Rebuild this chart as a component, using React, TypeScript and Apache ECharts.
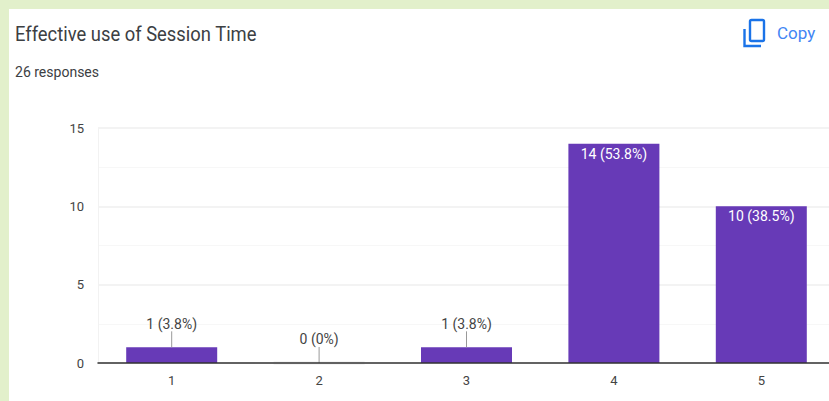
import React, { useEffect, useRef } from "react";
import * as echarts from "echarts";

const categories = ["1", "2", "3", "4", "5"];
const counts = [1, 0, 1, 14, 10];
const percents = ["3.8%", "0%", "3.8%", "53.8%", "38.5%"];
const titleText = "Effective use of Session Time";
const subtitleText = "26 responses";
const copyText = "Copy";

const FONT = "Roboto";
const INSIDE_FROM = 5; // bars at least this tall carry their label inside
const LEADER_LENGTH = 16;

export default function App() {
  const ref = useRef<HTMLDivElement>(null);

  useEffect(() => {
    const chart = echarts.init(ref.current!, undefined, { renderer: "svg" });
    chart.setOption({
      animation: false,
      backgroundColor: "#e2f0cb",
      graphic: [
        { type: "rect", z: -10, shape: { x: 9, y: 9, width: 840, height: 400 }, style: { fill: "#ffffff" } },
        { type: "text", x: 15, y: 24, scaleX: 0.92, style: { text: titleText, fill: "#3c4043", font: `20px ${FONT}` } },
        { type: "text", x: 15, y: 65, scaleX: 0.935, style: { text: subtitleText, fill: "#3c4043", font: `15px ${FONT}` } },
        {
          type: "rect",
          shape: { x: 750, y: 20, width: 14, height: 21, r: 1.5 },
          style: { fill: "none", stroke: "#1a73e8", lineWidth: 2.4 },
        },
        {
          type: "polyline",
          shape: { points: [[744.5, 29], [744.5, 46], [761, 46]] },
          style: { fill: "none", stroke: "#1a73e8", lineWidth: 2.4 },
        },
        { type: "text", x: 777, y: 24, style: { text: copyText, fill: "#4285f4", font: `17px ${FONT}` } },
      ],
      grid: { left: 98, top: 128, width: 737, height: 235 },
      xAxis: {
        type: "category",
        z: 5,
        data: categories,
        axisLine: { lineStyle: { color: "#333333", width: 1.5 } },
        axisTick: { show: false },
        axisLabel: { color: "#444444", fontFamily: FONT, fontSize: 13, margin: 11 },
      },
      yAxis: {
        type: "value",
        min: 0,
        max: 15,
        interval: 5,
        axisLine: { show: true, lineStyle: { color: "#f2f2f2", width: 1 } },
        axisTick: { show: false },
        axisLabel: { color: "#444444", fontFamily: FONT, fontSize: 13, margin: 14 },
        splitLine: { lineStyle: { color: "#efefef", width: 1.5 } },
        minorTick: { show: false, splitNumber: 2 },
        minorSplitLine: { show: true, lineStyle: { color: "#f7f7f7", width: 1 } },
      },
      series: [
        {
          type: "bar",
          barWidth: 91,
          z: 2,
          data: counts.map((value, i) => {
            const inside = value >= INSIDE_FROM;
            return {
              value,
              itemStyle:
                value === 0
                  ? { color: "#ebebeb", borderColor: "#ebebeb", borderWidth: 3 }
                  : { color: "#673ab7" },
              label: {
                show: true,
                formatter: `${value} (${percents[i]})`,
                position: inside ? "insideTop" : "top",
                distance: inside ? 3 : LEADER_LENGTH,
                color: inside ? "#ffffff" : "#444444",
                fontFamily: FONT,
                fontSize: 14,
              },
            };
          }),
        },
        {
          // leader lines tying outside labels to their short bars
          type: "custom",
          z: 3,
          silent: true,
          data: counts.map((value, i) => [i, value]),
          renderItem: (_params: any, api: any) => {
            const value = api.value(1);
            if (value >= INSIDE_FROM) return { type: "group", children: [] };
            const [x, y] = api.coord([api.value(0), value]);
            return {
              type: "line",
              shape: { x1: x, y1: y, x2: x, y2: y - LEADER_LENGTH },
              style: { stroke: "#999999", lineWidth: 1 },
            };
          },
        },
      ],
    });
    return () => chart.dispose();
  }, []);

  return (
    <div style={{ position: "fixed", left: 0, top: 0, width: 829, height: 401, overflow: "hidden" }}>
      {/* the plot runs on past the right edge, so the canvas is wider than the clip */}
      <div ref={ref} style={{ width: 845, height: 401 }} />
    </div>
  );
}
